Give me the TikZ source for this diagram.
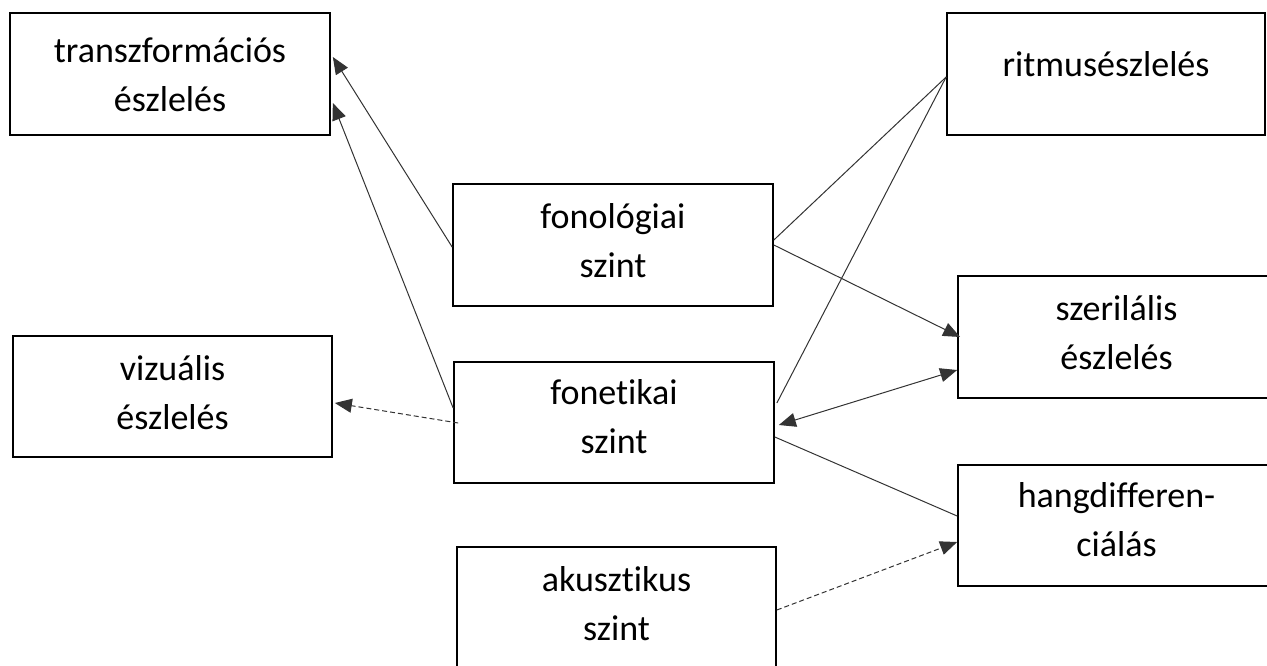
\documentclass[tikz,border=0pt]{standalone}
\usepackage{fontspec}
\setmainfont{Carlito}[Ligatures={NoCommon}]
\usetikzlibrary{arrows.meta}
\tikzset{
  box/.style={draw=black, line width=1.7pt, inner sep=0pt, minimum height=122pt},
  txt/.style={font=\fontsize{36}{49}\selectfont, align=center, inner sep=0pt, anchor=north, text=black},
  conn/.style={draw=black!80, line width=1pt},
  arr/.style={-{Triangle[length=17pt,width=14pt]}},
  arrboth/.style={{Triangle[length=17pt,width=14pt]}-{Triangle[length=17pt,width=14pt]}},
  dsh/.style={dash pattern=on 5pt off 3pt}
}
\newcommand{\tstrut}{\rule{0pt}{30pt}}
\begin{document}
\begin{tikzpicture}[x=1pt,y=-1pt]
\useasboundingbox (0,0) rectangle (1267,665);
\clip (0,0) rectangle (1267,665);
% boxes
\node[box, minimum width=320pt] (transz) at (170,74) {};
\node[box, minimum width=318pt] (ritmus) at (1106,74) {};
\node[box, minimum width=320pt] (fonol) at (613,245) {};
\node[box, minimum width=320pt, minimum height=121pt] (fonet) at (614,422.5) {};
\node[box, minimum width=319pt, minimum height=121pt] (vizu) at (172.5,396.5) {};
\node[box, minimum width=317pt] (szeril) at (1116.5,337) {};
\node[box, minimum width=317pt, minimum height=121pt] (hangd) at (1116.5,525.5) {};
\node[box, minimum width=319pt] (akusz) at (616.5,608) {};
% texts
\node[txt] (t1) at ([yshift=-20pt]transz.north) {\tstrut transzformációs\\észlelés};
\node[txt] (t2) at ([yshift=-34pt]ritmus.north) {\tstrut ritmusészlelés};
\node[txt] (t3) at ([yshift=-15pt]fonol.north) {\tstrut fonológiai\\szint};
\node[txt] (t4) at ([yshift=-13pt]fonet.north) {\tstrut fonetikai\\szint};
\node[txt] (t5) at ([yshift=-15pt]vizu.north) {\tstrut vizuális\\észlelés};
\node[txt] (t6) at ([yshift=-15pt]szeril.north) {\tstrut szerilális\\észlelés};
\node[txt] (t7) at ([yshift=-13pt]hangd.north) {\tstrut hangdifferen-\\ciálás};
\node[txt] (t8) at ([yshift=-15pt]akusz.north) {\tstrut akusztikus\\szint};
% connectors
\draw[conn,arr] ([yshift=-2pt]fonol.west) -- ([xshift=2pt,yshift=17pt]transz.east);
\draw[conn,arr] ([yshift=14.5pt]fonet.west) -- ([xshift=2pt,yshift=-29pt]transz.east);
\draw[conn,dsh,arr] ([xshift=5pt,yshift=-0.5pt]fonet.west) -- ([xshift=2pt,yshift=-6.5pt]vizu.east);
\draw[conn] ([yshift=5pt]fonol.east) -- ([yshift=-3pt]ritmus.west);
\draw[conn] ([xshift=2pt,yshift=19.5pt]fonet.east) -- ([yshift=-3pt]ritmus.west);
\draw[conn,arr] (fonol.east) -- ([xshift=3pt]szeril.west);
\draw[conn,arrboth] ([xshift=4pt,yshift=-2.5pt]fonet.east) -- ([yshift=-33pt]szeril.west);
\draw[conn] ([yshift=-14.5pt]fonet.east) -- ([yshift=9.5pt]hangd.west);
\draw[conn,dsh,arr] ([yshift=-2pt]akusz.east) -- ([yshift=-16.5pt]hangd.west);
\end{tikzpicture}
\end{document}
